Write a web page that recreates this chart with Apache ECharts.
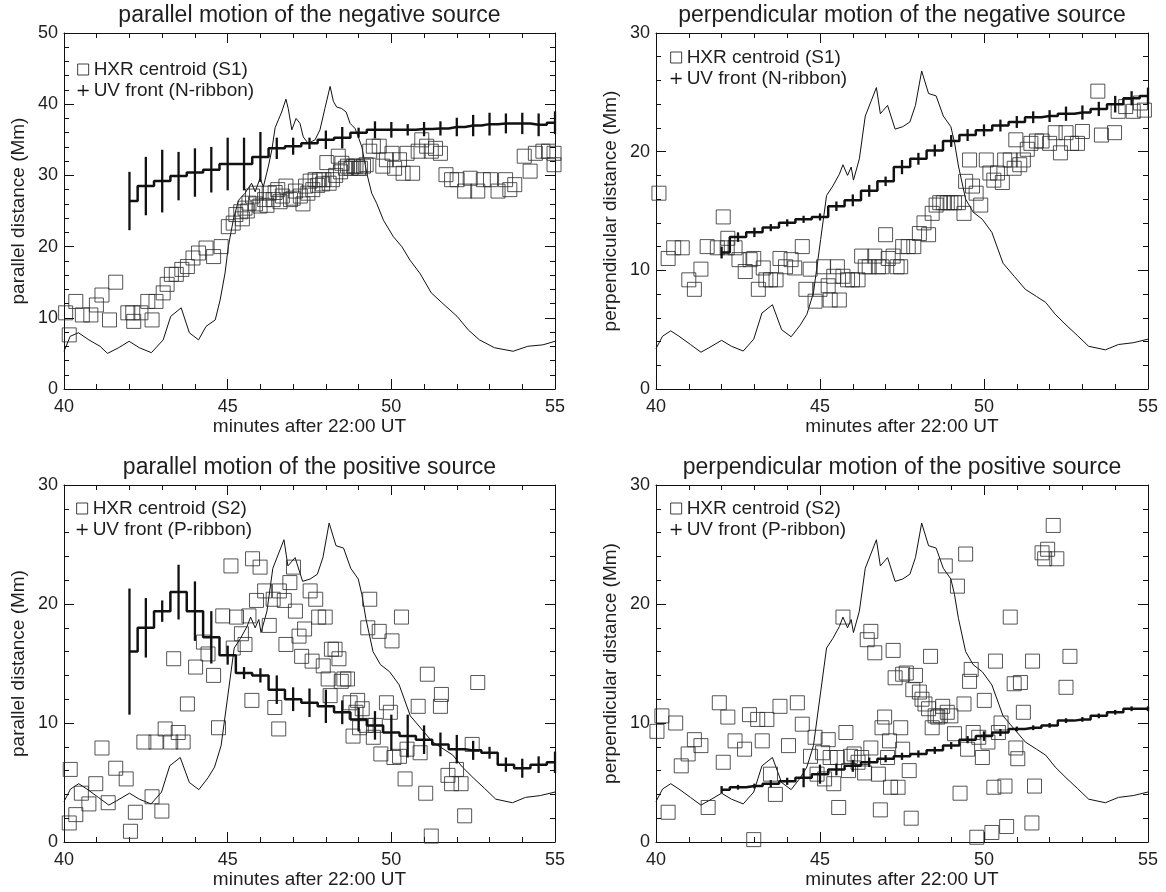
<!DOCTYPE html>
<html><head><meta charset="utf-8">
<script src="https://cdn.jsdelivr.net/npm/echarts@6/dist/echarts.min.js"></script>
<style>html,body{margin:0;padding:0;background:#fff}#c{width:1166px;height:892px}</style>
</head><body><div id="c"></div>
<script>
// ---------- DATA ----------
const xTickLabels = [40, 45, 50, 55];
const titles = ['parallel motion of the negative source','perpendicular motion of the negative source','parallel motion of the positive source','perpendicular motion of the positive source'];
const yNames = ['parallel distance (Mm)','perpendicular distance (Mm)','parallel distance (Mm)','perpendicular distance (Mm)'];
const xName = 'minutes after 22:00 UT';
const yMaxes = [50, 30, 30, 30];
const hxrNames = ['HXR centroid (S1)','HXR centroid (S1)','HXR centroid (S2)','HXR centroid (S2)'];
const uvNames = ['UV front (N-ribbon)','UV front (N-ribbon)','UV front (P-ribbon)','UV front (P-ribbon)'];

// HXR light curve, scaled for the 0-50 panel
const lcT1 = [40.0,40.19,40.44,40.76,41.1,41.33,41.67,41.99,42.3,42.67,43.03,43.26,43.58,43.83,44.11,44.34,44.62,44.77,44.92,45.02,45.17,45.33,45.53,45.73,45.84,45.99,46.09,46.24,46.35,46.45,46.55,46.65,46.78,46.85,46.96,47.09,47.21,47.31,47.46,47.67,47.82,47.97,48.13,48.23,48.33,48.48,48.62,48.74,48.89,48.99,49.1,49.25,49.4,49.55,49.76,50.06,50.32,50.57,50.88,51.22,51.67,52.01,52.35,52.69,53.15,53.72,54.17,54.63,55.0];
const lcV1 = [5.3,7.4,7.9,6.9,6.0,5.0,5.8,6.7,5.8,5.1,6.9,10.2,11.4,7.9,6.9,8.8,9.7,12.5,16.3,20.0,23.7,26.5,27.5,28.9,27.7,29.6,28.4,31.2,33.6,36.7,37.8,38.9,40.7,39.4,36.4,38.0,37.3,35.4,34.5,35.0,36.4,39.4,42.5,40.4,39.6,39.4,38.9,37.3,36.6,35.4,34.0,30.3,27.5,26.1,23.7,21.4,20.0,18.1,16.2,13.5,11.6,10.2,8.3,6.9,5.8,5.3,6.0,6.2,6.7];
// HXR light curve, scaled for the 0-30 panels
const lcT2 = [40.0,40.2,40.45,40.7,41.05,41.37,41.6,42.0,42.3,42.66,42.98,43.23,43.55,43.83,44.12,44.4,44.6,44.8,45.02,45.2,45.39,45.59,45.7,45.84,45.95,46.02,46.2,46.38,46.55,46.72,46.84,47.06,47.29,47.52,47.74,47.91,48.1,48.31,48.54,48.76,48.99,49.1,49.22,49.44,49.67,49.95,50.24,50.58,50.92,51.26,51.6,51.88,52.17,52.5,52.85,53.19,53.7,54.1,54.55,55.0];
const lcV2 = [3.4,4.45,4.9,4.45,3.75,3.1,3.45,4.1,3.6,3.2,4.2,6.4,7.1,5.0,4.4,5.4,6.3,8.1,12.6,16.3,17.1,18.1,18.9,18.0,18.7,17.6,19.4,23.0,24.2,25.4,23.2,23.9,21.9,22.1,22.5,23.9,26.8,24.9,24.7,23.0,22.1,20.8,18.8,16.0,14.9,14.3,13.2,10.6,9.5,8.4,7.8,7.3,6.3,5.4,4.5,3.6,3.3,3.75,3.9,4.2];

// UV front times (minutes)
const uvT = [42.0,42.5,43.0,43.5,44.0,44.5,45.0,45.5,46.0,46.5,47.0,47.5,48.0,48.5,49.0,49.5,50.0,50.5,51.0,51.5,52.0,52.5,53.0,53.5,54.0,54.5,55.0];
const uv1Y = [26.4,28.5,29.2,29.9,30.4,30.8,31.6,31.6,32.6,33.8,34.1,34.5,35.0,35.3,36.0,36.4,36.4,36.4,36.5,36.6,36.8,37.0,37.2,37.3,37.3,37.1,37.4];
const uv1E = [4.1,4.1,4.4,3.4,3.4,3.2,3.7,3.7,3.5,1.5,1.2,0.8,1.3,1.5,0.7,1.2,1.1,0.8,1.0,1.0,1.3,1.5,1.6,1.4,1.5,1.6,1.6];
const uv2Y = [11.5,12.8,13.2,13.6,14.0,14.3,14.5,15.4,15.9,16.7,17.5,18.7,19.4,20.1,20.9,21.4,21.8,22.2,22.5,22.9,23.0,23.2,23.3,23.6,24.0,24.5,24.7];
const uv2E = [0.5,0.4,0.4,0.3,0.3,0.3,0.3,0.4,0.5,0.5,0.4,0.6,0.5,0.5,0.5,0.5,0.5,0.5,0.5,0.5,0.5,0.6,0.6,0.6,0.7,0.6,0.7];
const uv3Y = [16.0,18.0,19.4,21.0,19.4,17.2,15.7,14.2,14.0,12.8,12.0,11.7,11.4,10.9,10.3,9.8,9.2,8.9,8.6,8.2,7.8,7.7,7.5,6.5,6.2,6.5,6.7];
const uv3E = [5.3,2.5,0.9,2.3,2.5,2.2,0.8,0.5,0.6,1.2,1.0,1.2,1.4,1.0,1.0,1.2,1.5,1.8,1.2,1.0,1.2,0.8,0.5,0.6,0.8,0.7,0.9];
const uv4Y = [4.4,4.6,4.7,4.9,5.1,5.4,5.7,6.1,6.4,6.7,7.0,7.2,7.4,7.7,8.1,8.6,8.9,9.2,9.5,9.6,9.8,10.2,10.3,10.6,10.9,11.2,11.2];
const uv4E = [0.3,0.2,0.2,0.3,0.3,0.8,0.8,0.5,0.5,0.4,0.3,0.3,0.3,0.3,0.3,0.3,0.4,0.3,0.2,0.2,0.2,0.2,0.2,0.2,0.2,0.2,0.2];

// HXR centroids [minutes, Mm]
const hxr1 = [[40.05,10.7],[40.16,7.6],[40.36,12.3],[40.56,10.4],[40.82,10.4],[40.99,11.8],[41.16,13.2],[41.39,9.7],[41.58,15.0],[41.95,10.7],[42.1,10.7],[42.13,9.5],[42.35,10.7],[42.56,12.3],[42.69,9.7],[42.81,12.3],[43.03,13.5],[43.15,14.7],[43.28,16.1],[43.43,16.1],[43.6,16.8],[43.77,17.2],[43.94,18.4],[44.11,19.1],[44.34,19.8],[44.57,18.6],[44.8,20.0],[45.02,22.8],[45.17,23.3],[45.25,24.5],[45.4,24.9],[45.45,23.9],[45.53,25.4],[45.6,25.0],[45.65,26.1],[45.76,27.1],[45.85,26.0],[45.88,27.5],[45.99,25.7],[46.13,26.6],[46.2,25.8],[46.27,27.5],[46.39,26.6],[46.45,27.6],[46.53,28.0],[46.6,26.3],[46.67,27.1],[46.78,28.5],[46.92,26.6],[47.0,26.8],[47.07,27.8],[47.22,27.1],[47.3,26.0],[47.38,28.5],[47.45,27.5],[47.52,29.2],[47.6,28.0],[47.67,29.4],[47.75,28.6],[47.81,29.4],[47.9,28.8],[47.94,29.4],[48.03,31.8],[48.1,28.9],[48.2,29.4],[48.3,30.0],[48.38,32.7],[48.45,30.5],[48.49,31.7],[48.6,31.0],[48.66,31.3],[48.77,31.0],[48.85,31.3],[48.92,31.3],[49.0,31.0],[49.06,31.0],[49.15,31.3],[49.23,31.5],[49.34,33.4],[49.45,34.1],[49.63,34.1],[49.74,31.3],[49.85,32.2],[50.02,33.1],[50.1,31.0],[50.25,32.2],[50.36,30.3],[50.48,33.1],[50.65,30.3],[50.82,33.4],[50.93,35.0],[51.08,34.1],[51.22,33.4],[51.35,33.8],[51.5,33.1],[51.67,30.1],[51.84,29.4],[52.01,29.4],[52.24,27.8],[52.41,29.6],[52.64,27.8],[52.81,29.4],[53.03,29.4],[53.26,27.8],[53.49,29.4],[53.62,28.0],[53.77,28.7],[54.06,32.7],[54.24,30.6],[54.4,33.1],[54.63,33.4],[54.8,33.4],[54.97,31.5],[54.97,33.1]];
const hxr2 = [[40.09,16.5],[40.37,11.0],[40.54,11.9],[40.8,11.9],[41.0,9.2],[41.17,8.4],[41.37,10.1],[41.56,12.0],[41.87,11.9],[42.05,14.5],[42.17,11.9],[42.19,12.7],[42.41,11.9],[42.53,10.9],[42.72,9.9],[42.87,10.9],[42.98,11.0],[43.12,8.4],[43.27,10.2],[43.35,9.2],[43.49,9.2],[43.66,9.2],[43.78,11.0],[43.95,10.3],[44.12,10.9],[44.23,10.2],[44.46,12.0],[44.57,8.4],[44.7,10.1],[44.85,7.4],[45.0,8.4],[45.11,10.3],[45.25,8.7],[45.31,7.5],[45.42,9.5],[45.53,10.3],[45.59,7.5],[45.7,9.5],[45.84,9.2],[45.99,9.2],[46.16,9.2],[46.27,11.2],[46.38,10.3],[46.5,10.3],[46.67,11.2],[46.78,10.3],[46.89,10.3],[47.0,13.0],[47.08,11.0],[47.23,11.2],[47.35,10.3],[47.46,10.3],[47.52,12.0],[47.69,12.0],[47.86,12.0],[48.03,13.1],[48.17,14.0],[48.31,13.0],[48.42,14.8],[48.54,15.5],[48.65,15.7],[48.76,15.7],[48.88,15.7],[48.99,15.7],[49.1,15.7],[49.22,15.7],[49.39,14.8],[49.44,17.5],[49.56,19.3],[49.65,17.1],[49.76,16.5],[49.9,15.5],[50.07,19.3],[50.18,18.2],[50.3,17.6],[50.41,18.2],[50.56,17.4],[50.63,19.3],[50.8,19.3],[50.92,18.6],[50.97,21.0],[51.09,18.9],[51.2,19.3],[51.32,20.2],[51.43,20.7],[51.6,20.9],[51.77,20.9],[52.0,20.7],[52.17,21.6],[52.33,19.9],[52.5,21.6],[52.67,20.7],[52.85,20.7],[53.0,21.7],[53.47,25.1],[53.58,21.4],[53.98,21.6],[54.09,23.4],[54.32,23.8],[54.55,23.4],[54.77,24.1],[54.89,23.5]];
const hxr3 = [[40.16,1.6],[40.19,6.1],[40.36,2.3],[40.53,4.1],[40.76,3.2],[40.97,4.9],[41.16,7.9],[41.35,3.3],[41.58,6.2],[41.9,5.3],[42.03,0.9],[42.18,2.5],[42.44,8.4],[42.69,3.8],[42.81,8.4],[42.99,2.6],[43.09,9.5],[43.26,8.4],[43.35,15.4],[43.49,9.2],[43.64,8.4],[43.77,11.6],[44.02,14.7],[44.26,16.8],[44.4,15.8],[44.57,14.0],[44.72,9.6],[44.85,19.0],[45.1,23.2],[45.17,16.3],[45.27,18.9],[45.42,17.5],[45.53,16.6],[45.65,19.0],[45.74,11.9],[45.76,23.8],[45.88,20.3],[45.99,23.1],[46.13,21.1],[46.27,18.2],[46.39,20.4],[46.44,11.3],[46.56,9.5],[46.58,21.1],[46.73,20.3],[46.78,16.6],[46.9,21.8],[47.01,23.1],[47.07,19.4],[47.18,17.3],[47.26,15.6],[47.35,17.9],[47.52,21.1],[47.58,15.2],[47.69,20.4],[47.78,18.9],[47.92,14.8],[47.98,18.9],[48.07,13.7],[48.13,12.3],[48.17,16.2],[48.28,16.2],[48.4,15.4],[48.47,13.5],[48.55,13.7],[48.66,13.7],[48.74,11.7],[48.83,8.9],[48.92,10.9],[48.97,11.9],[49.03,9.6],[49.11,11.2],[49.23,9.8],[49.28,18.0],[49.34,20.4],[49.45,8.8],[49.51,9.8],[49.63,17.7],[49.68,7.4],[49.85,11.7],[49.97,10.9],[50.02,16.9],[50.08,7.1],[50.25,7.2],[50.31,18.9],[50.42,5.3],[50.48,7.8],[50.82,11.4],[50.88,7.5],[51.05,4.1],[51.1,14.1],[51.22,0.5],[51.5,11.4],[51.53,12.4],[51.73,5.6],[51.84,4.9],[51.99,6.1],[52.13,4.9],[52.24,2.2],[52.47,8.2],[52.64,13.4]];
const hxr4 = [[40.03,9.3],[40.18,10.6],[40.37,2.5],[40.6,10.0],[40.77,6.4],[40.98,7.4],[41.17,8.6],[41.37,8.1],[41.59,2.9],[41.93,11.7],[42.05,6.7],[42.19,10.5],[42.41,8.5],[42.7,7.8],[42.85,10.7],[42.98,0.2],[43.1,10.3],[43.24,8.5],[43.38,10.3],[43.49,5.7],[43.64,4.0],[43.78,11.4],[44.04,8.1],[44.31,11.7],[44.46,9.9],[44.71,7.2],[44.85,8.8],[44.91,5.7],[45.08,7.5],[45.14,5.3],[45.25,8.6],[45.31,7.1],[45.42,4.9],[45.53,7.1],[45.57,2.9],[45.7,18.9],[45.79,9.2],[45.87,6.0],[45.93,7.2],[46.04,7.4],[46.16,6.7],[46.27,7.1],[46.36,5.8],[46.44,17.0],[46.55,17.7],[46.55,7.9],[46.67,15.9],[46.78,5.7],[46.84,2.7],[46.89,9.6],[46.97,10.5],[47.06,7.1],[47.12,8.5],[47.15,4.6],[47.23,16.1],[47.29,13.8],[47.38,4.6],[47.46,9.6],[47.52,7.8],[47.52,14.1],[47.63,14.2],[47.72,6.0],[47.78,2.0],[47.83,12.8],[47.91,14.0],[48.03,12.6],[48.11,12.0],[48.2,11.6],[48.31,11.2],[48.37,15.6],[48.42,9.6],[48.51,10.6],[48.59,10.5],[48.67,10.6],[48.74,11.4],[48.82,23.2],[48.88,10.9],[48.99,10.6],[49.1,9.1],[49.19,21.5],[49.27,4.1],[49.39,11.6],[49.44,24.2],[49.5,7.8],[49.56,13.5],[49.61,14.5],[49.67,9.2],[49.78,0.4],[49.84,8.8],[49.95,7.1],[50.01,11.9],[50.12,8.4],[50.24,0.8],[50.3,4.6],[50.35,15.2],[50.44,9.2],[50.52,10.0],[50.64,4.7],[50.69,1.3],[50.8,18.9],[50.92,13.3],[50.97,7.9],[51.03,7.0],[51.11,13.4],[51.2,10.9],[51.46,1.6],[51.48,15.2],[51.54,4.7],[51.77,24.3],[51.85,23.8],[51.94,24.6],[52.11,26.6],[52.22,23.8],[52.5,13.0],[52.62,15.6]];

// ---------- LAYOUT / STYLE ----------
const FONT = '"Liberation Sans", Arial, Helvetica, sans-serif';
const INK = '#111';
const TXT = '#1e1e1e';
const gridPos = [
  {left:64, top:33, width:491, height:356},
  {left:656, top:33, width:492, height:356},
  {left:64, top:485, width:491, height:357},
  {left:656, top:485, width:492, height:357}
];
const legendTops = [60, 48, 499, 499];
const legendLefts = [77, 670, 76, 670];

const lcSets = [[lcT1, lcV1],[lcT2, lcV2],[lcT2, lcV2],[lcT2, lcV2]];
const uvSets = [[uv1Y, uv1E],[uv2Y, uv2E],[uv3Y, uv3E],[uv4Y, uv4E]];
const hxrSets = [hxr1, hxr2, hxr3, hxr4];

function tickCfg(){ return {show:true, inside:true, length:10, lineStyle:{color:INK, width:1}}; }
function minorCfg(){ return {show:true, splitNumber:5, length:5, lineStyle:{color:INK, width:1}}; }

function errRender(params, api){
  const x = api.value(0), y = api.value(1), e = api.value(2);
  const a = api.coord([x, y + e]);
  const b = api.coord([x, y - e]);
  return {type:'line', shape:{x1:a[0], y1:a[1], x2:b[0], y2:b[1]}, style:{stroke:INK, lineWidth:2.3}};
}

const option = {animation:false, backgroundColor:'#fff', textStyle:{fontFamily:FONT},
  title:[], grid:[], xAxis:[], yAxis:[], legend:[], series:[]};

for (let i = 0; i < 4; i++) {
  const g = gridPos[i];
  option.grid.push({left:g.left, top:g.top, width:g.width, height:g.height, containLabel:false, outerBoundsMode:'none'});
  option.title.push({text:titles[i], left:g.left + g.width/2, top:g.top - 29, textAlign:'center', padding:0,
    textStyle:{fontFamily:FONT, fontSize:23, fontWeight:'normal', color:TXT}});
  option.xAxis.push({type:'value', gridIndex:i, position:'bottom', min:xTickLabels[0], max:xTickLabels[xTickLabels.length-1], interval:5,
    name:xName, nameLocation:'middle', nameGap:28, nameTextStyle:{fontFamily:FONT, fontSize:19, color:TXT},
    axisLine:{show:true, onZero:false, lineStyle:{color:INK, width:1}}, axisTick:tickCfg(), minorTick:minorCfg(),
    splitLine:{show:false}, axisLabel:{show:true, margin:9, fontFamily:FONT, fontSize:18, color:TXT}});
  option.xAxis.push({type:'value', gridIndex:i, position:'top', min:40, max:55, interval:5,
    axisLine:{show:true, onZero:false, lineStyle:{color:INK, width:1}}, axisTick:tickCfg(), minorTick:minorCfg(),
    splitLine:{show:false}, axisLabel:{show:false}});
  option.yAxis.push({type:'value', gridIndex:i, position:'left', min:0, max:yMaxes[i], interval:10,
    name:yNames[i], nameLocation:'middle', nameGap:36, nameTextStyle:{fontFamily:FONT, fontSize:19, color:TXT},
    axisLine:{show:true, onZero:false, lineStyle:{color:INK, width:1}}, axisTick:tickCfg(), minorTick:minorCfg(),
    splitLine:{show:false}, axisLabel:{show:true, margin:6, fontFamily:FONT, fontSize:18, color:TXT}});
  option.yAxis.push({type:'value', gridIndex:i, position:'right', min:0, max:yMaxes[i], interval:10,
    axisLine:{show:true, onZero:false, lineStyle:{color:INK, width:1}}, axisTick:tickCfg(), minorTick:minorCfg(),
    splitLine:{show:false}, axisLabel:{show:false}});

  const xi = 2*i, yi = 2*i;
  const lc = lcSets[i];
  option.series.push({type:'line', name:'lc'+i, xAxisIndex:xi, yAxisIndex:yi, data:lc[0].map((t,k)=>[t, lc[1][k]]),
    showSymbol:false, symbol:'none', lineStyle:{color:INK, width:1}, z:2, silent:true});
  option.series.push({type:'scatter', name:hxrNames[i], xAxisIndex:xi, yAxisIndex:yi, data:hxrSets[i],
    symbol:'rect', symbolSize:14, itemStyle:{color:'rgba(0,0,0,0)', borderColor:'#2a2a2a', borderWidth:1}, z:3, silent:true});
  const uv = uvSets[i];
  option.series.push({type:'line', name:'step'+i, xAxisIndex:xi, yAxisIndex:yi, step:'middle',
    data:uvT.map((t,k)=>[t, uv[0][k]]), showSymbol:false, symbol:'none', lineStyle:{color:INK, width:2.5}, z:4, silent:true});
  option.series.push({type:'custom', name:uvNames[i], xAxisIndex:xi, yAxisIndex:yi,
    data:uvT.map((t,k)=>[t, uv[0][k], uv[1][k]]), encode:{x:0, y:1}, renderItem:errRender, z:5, silent:true});

  option.legend.push({left:legendLefts[i], top:legendTops[i], orient:'vertical', itemWidth:11, itemHeight:11, itemGap:2,
    selectedMode:false, padding:0, textStyle:{fontFamily:FONT, fontSize:19, color:TXT},
    data:[
      {name:hxrNames[i], icon:'rect', itemStyle:{color:'rgba(0,0,0,0)', borderColor:INK, borderWidth:1}},
      {name:uvNames[i], icon:'path://M5,0L5,10M0,5L10,5', itemStyle:{color:'rgba(0,0,0,0)', borderColor:INK, borderWidth:1.3}}
    ]});
}

const chart = echarts.init(document.getElementById('c'), null, {renderer:'canvas'});
chart.setOption(option);
</script></body></html>
